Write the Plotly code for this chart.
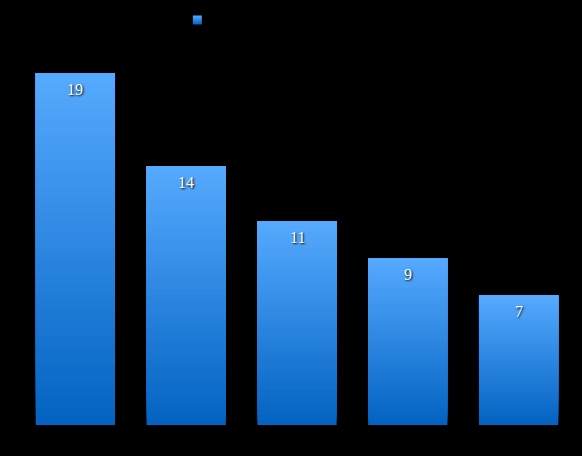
import plotly.graph_objects as go

categories = ["A", "B", "C", "D", "E"]
values = [19, 14, 11, 9, 7]
series_name = ""

TOP = (86, 170, 255)
BOTTOM = (3, 98, 193)
N = 40

def mix(t):
    # t=0 bottom, t=1 top
    r = [round(BOTTOM[i] + (TOP[i] - BOTTOM[i]) * t) for i in range(3)]
    return "rgb(%d,%d,%d)" % tuple(r)

fig = go.Figure()
for k in range(N):
    fig.add_trace(go.Bar(
        x=categories,
        y=[v * (1 - k / N) for v in values],
        base=[v * k / N for v in values],
        marker=dict(color=mix((k + 0.5) / N), line=dict(width=0)),
        showlegend=False,
        hoverinfo="skip",
    ))

# legend-only entry
fig.add_trace(go.Scatter(
    x=[None], y=[None], mode="markers", name=series_name,
    marker=dict(symbol="square", size=9, color="rgb(86,170,255)",
                gradient=dict(type="vertical", color="rgb(3,98,193)")),
    showlegend=True,
))

for c, v in zip(categories, values):
    fig.add_annotation(
        x=c, y=v, text=str(v), showarrow=False, yanchor="top", yshift=-6,
        font=dict(family="Liberation Serif, Times New Roman, serif", size=16,
                  color="white", shadow="1px 1px 2px black"),
    )

fig.update_layout(
    width=582, height=456,
    paper_bgcolor="black", plot_bgcolor="black",
    barmode="overlay", bargap=0.285,
    margin=dict(l=19.5, r=7.5, t=53, b=31, autoexpand=False),
    xaxis=dict(visible=False),
    yaxis=dict(visible=False, range=[0, 20.1]),
    showlegend=True,
    legend=dict(orientation="h", x=0.284, xanchor="left",
                yref="container", y=1 - 20 / 456, yanchor="middle",
                font=dict(color="white", size=12), bgcolor="rgba(0,0,0,0)"),
)

fig.write_html("out.html", config={"displayModeBar": False},
               post_script="document.body.style.margin='0';document.body.style.background='black';")
